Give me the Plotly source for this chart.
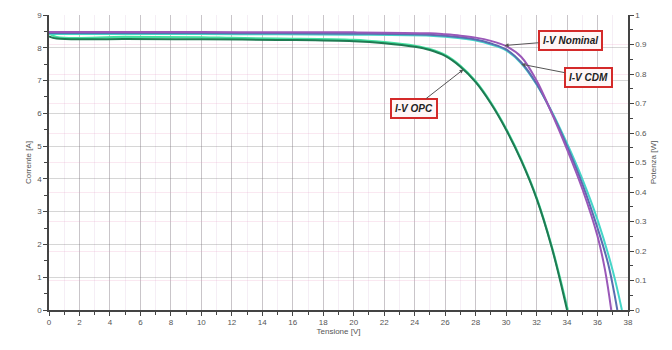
import plotly.graph_objects as go

# ---- data ----
v_nom = [0, 5, 10, 15, 20, 25, 26, 27, 28, 29, 30, 31, 32, 33, 34, 35, 36, 36.5, 36.9]
i_nom = [8.48, 8.48, 8.48, 8.47, 8.47, 8.44, 8.41, 8.37, 8.31, 8.21, 8.05, 7.72, 7.0, 6.0, 4.9, 3.7, 2.25, 1.2, 0.0]

v_cdm = [0, 5, 10, 15, 20, 25, 26, 27, 28, 29, 30, 31, 32, 33, 34, 35, 36, 36.7, 37.3]
i_cdm = [8.45, 8.45, 8.45, 8.44, 8.43, 8.4, 8.37, 8.32, 8.25, 8.13, 7.95, 7.55, 6.9, 6.02, 5.0, 3.85, 2.5, 1.4, 0.0]

v_cdm2 = [0, 5, 10, 15, 20, 25, 26, 27, 28, 29, 30, 31, 32, 33, 34, 35, 36, 37, 37.6]
i_cdm2 = [8.42, 8.42, 8.42, 8.41, 8.4, 8.37, 8.34, 8.29, 8.22, 8.1, 7.92, 7.52, 6.88, 6.05, 5.08, 4.0, 2.75, 1.2, 0.0]

v_opc = [0, 0.5, 5, 10, 15, 20, 22, 24, 25, 26, 27, 28, 29, 30, 31, 32, 33, 34]
i_opc = [8.35, 8.28, 8.27, 8.26, 8.24, 8.2, 8.14, 8.03, 7.93, 7.75, 7.42, 6.95, 6.3, 5.5, 4.55, 3.4, 1.9, 0.0]

v_opc2 = [0, 0.5, 5, 10, 12, 15, 20, 22, 24, 25, 26, 27, 28, 29, 30, 31, 32, 33, 34.05]
i_opc2 = [8.45, 8.33, 8.33, 8.32, 8.3, 8.28, 8.24, 8.17, 8.06, 7.96, 7.78, 7.45, 6.98, 6.33, 5.53, 4.58, 3.43, 1.93, 0.0]

x_ticks = list(range(0, 40, 2))
y_ticks = list(range(0, 10))
y2_ticks = [round(0.1 * k, 1) for k in range(0, 11)]

labels = ["I-V Nominal", "I-V CDM", "I-V OPC"]
label_pos = [(34.2, 8.23), (35.4, 7.1), (23.95, 6.16)]
label_tip = [(29.9, 8.07), (31.0, 7.5), (27.2, 7.34)]

fig = go.Figure()
series = [
    (v_opc2, i_opc2, "#45e0a0", 2.2),
    (v_opc, i_opc, "#1f7a52", 2),
    (v_cdm2, i_cdm2, "#45d6c8", 2),
    (v_cdm, i_cdm, "#5b6cb0", 2),
    (v_nom, i_nom, "#9a58b8", 2),
]
for xs, ys, col, w in series:
    fig.add_trace(go.Scatter(x=xs, y=ys, mode="lines",
                             line=dict(color=col, width=w, shape="spline", smoothing=1.0),
                             showlegend=False))
# invisible trace to activate the right axis
fig.add_trace(go.Scatter(x=[0], y=[0], yaxis="y2", mode="markers", marker=dict(opacity=0), showlegend=False, hoverinfo="skip"))

for txt, (bx, by), (tx, ty) in zip(labels, label_pos, label_tip):
    fig.add_annotation(
        x=tx, y=ty, ax=bx, ay=by, axref="x", ayref="y", xref="x", yref="y",
        text="<b><i>" + txt + "</i></b>", showarrow=True, arrowhead=2, arrowsize=0.8,
        arrowwidth=1, arrowcolor="#555555",
        font=dict(family="Liberation Sans", size=10, color="#222222"),
        bgcolor="#fff6f6", bordercolor="#d42a2a", borderwidth=2, borderpad=3,
    )

tickfont = dict(family="Liberation Sans", size=8, color="#555555")
fig.update_layout(
    width=672, height=350,
    margin=dict(l=49, r=44, t=15, b=40),
    paper_bgcolor="white", plot_bgcolor="white",
    xaxis=dict(range=[0, 38], tickvals=x_ticks, showgrid=True, gridcolor="rgba(120,120,120,0.35)",
               minor=dict(dtick=1, showgrid=True, gridcolor="rgba(200,160,200,0.18)", ticks="outside", ticklen=3, tickcolor="#444"),
               showline=True, linecolor="#444", linewidth=1.5, ticks="outside", ticklen=4, tickcolor="#444",
               tickfont=tickfont, zeroline=False,
               title=dict(text="Tensione [V]", font=dict(family="Liberation Sans", size=8, color="#555"), standoff=2)),
    yaxis=dict(range=[0, 9], tickvals=y_ticks, showgrid=True, gridcolor="rgba(120,120,120,0.3)",
               minor=dict(dtick=0.5, showgrid=False, ticks="outside", ticklen=3, tickcolor="#444"),
               showline=True, linecolor="#444", linewidth=1.5, ticks="outside", ticklen=4, tickcolor="#444",
               tickfont=tickfont, zeroline=False,
               title=dict(text="Corrente [A]", font=dict(family="Liberation Sans", size=8, color="#555"), standoff=4)),
    yaxis2=dict(range=[0, 1], tickvals=y2_ticks, overlaying="y", side="right", showgrid=True,
                gridcolor="rgba(230,150,190,0.22)",
                minor=dict(dtick=0.05, ticks="outside", ticklen=3, tickcolor="#444"),
                showline=True, linecolor="#444", linewidth=1.5, ticks="outside", ticklen=4, tickcolor="#444",
                tickfont=tickfont, zeroline=False,
                title=dict(text="Potenza [W]", font=dict(family="Liberation Sans", size=8, color="#555"), standoff=4)),
)

fig.write_html("out.html")
